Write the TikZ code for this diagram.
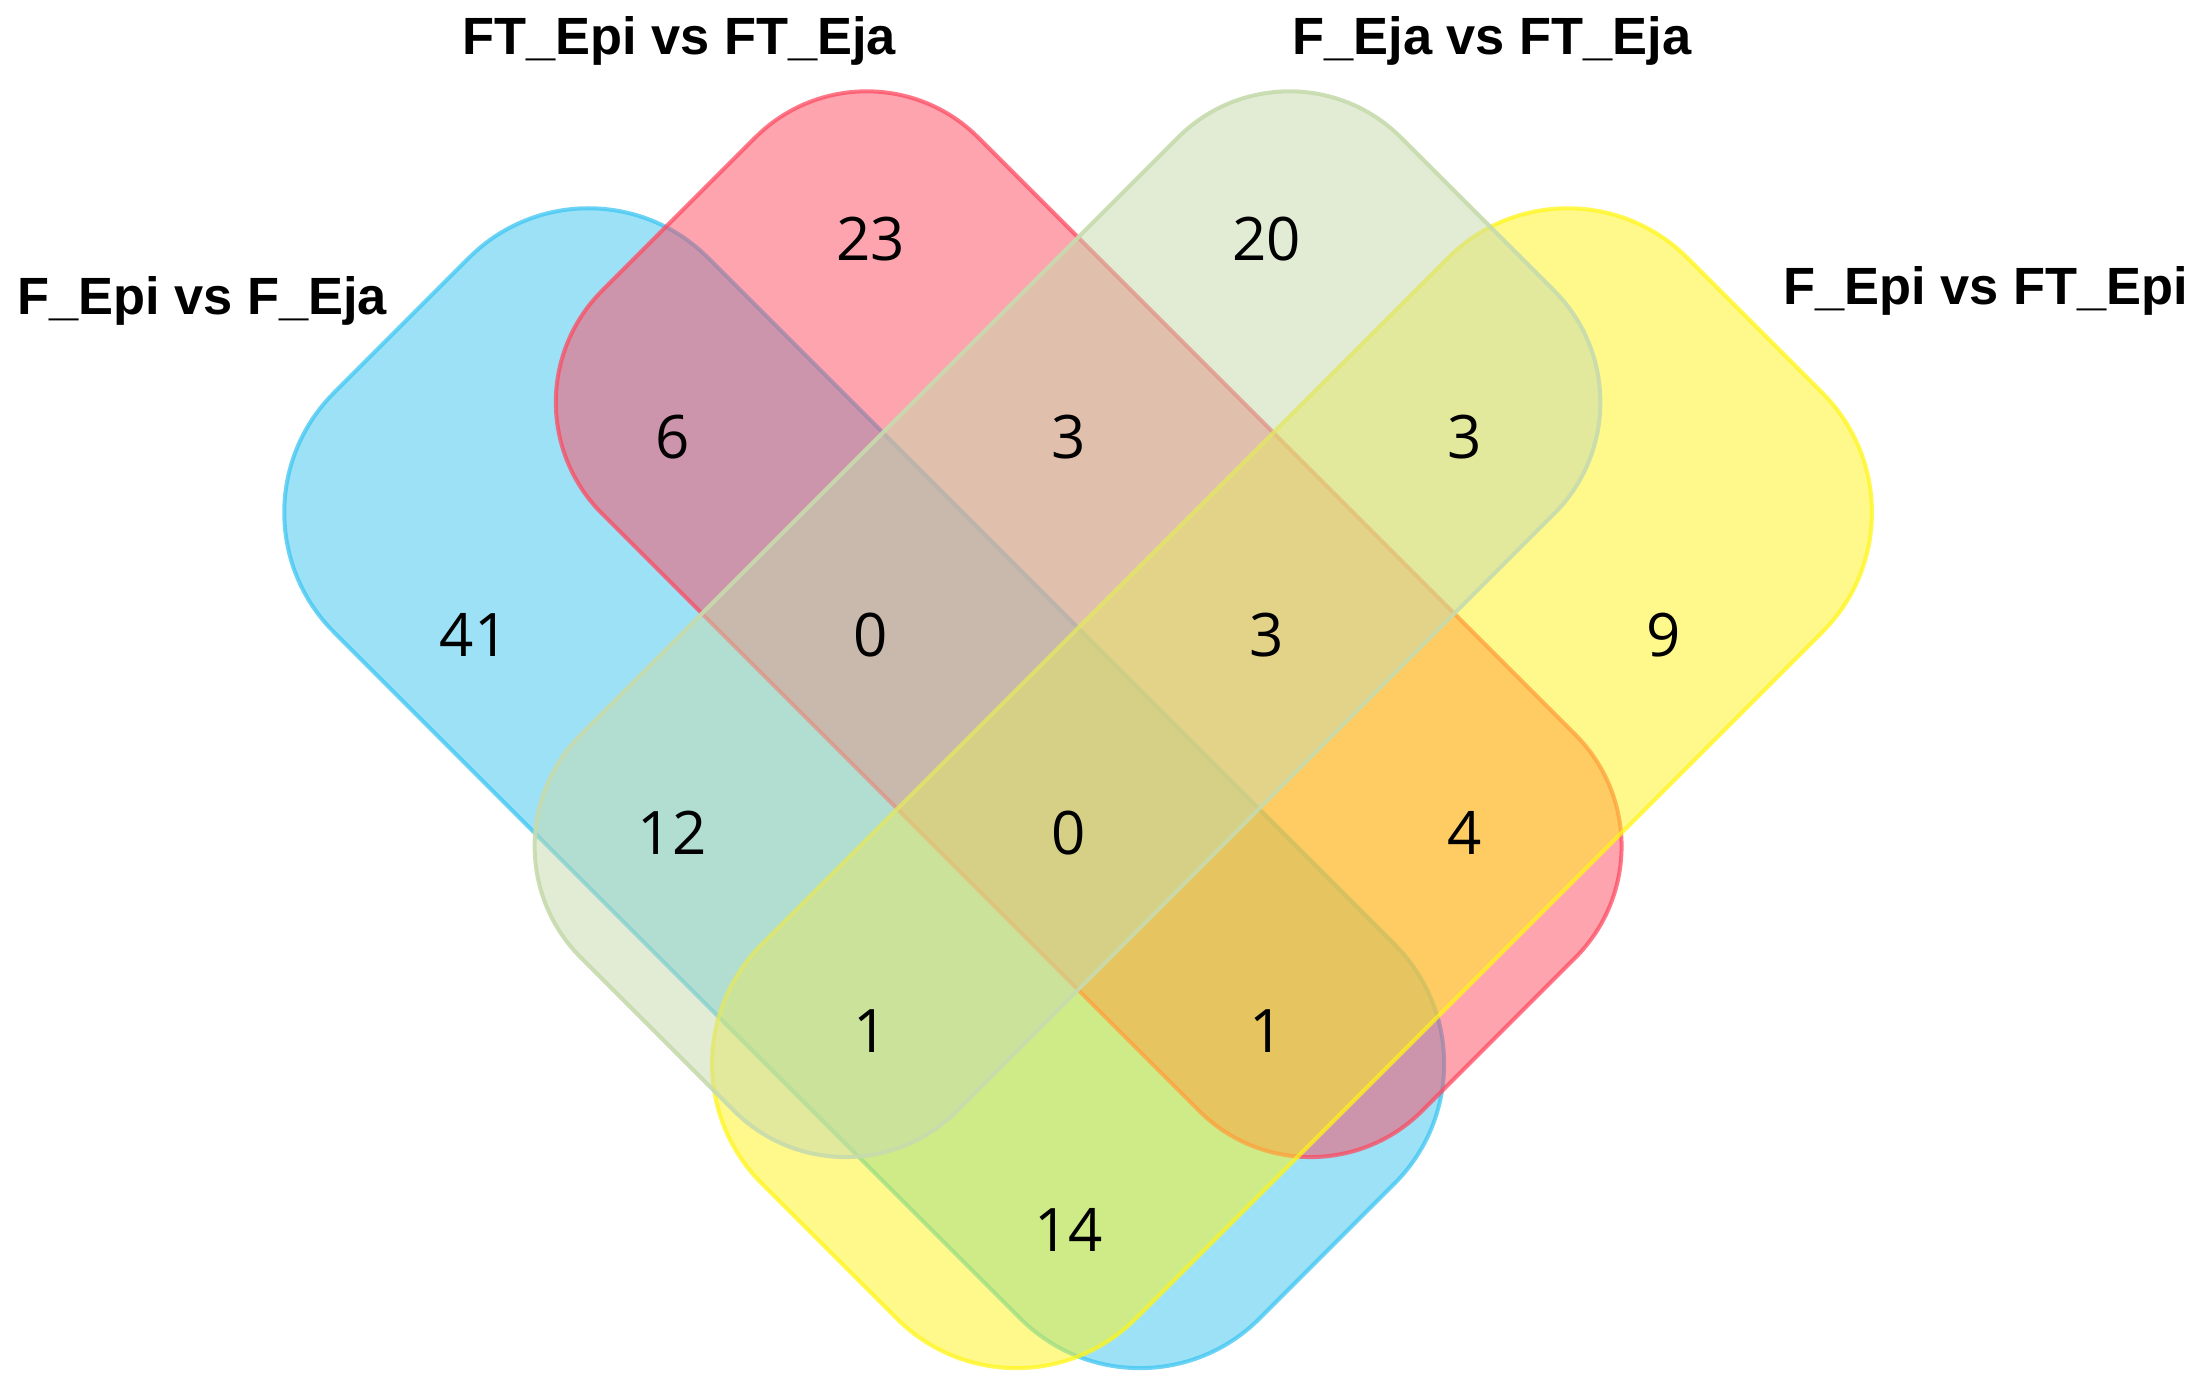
\documentclass[tikz,border=0pt]{standalone}
\usepackage{fontspec}
\setmainfont{Liberation Sans}
\newfontfamily\numfont{Open Sans}
\definecolor{blueF}{RGB}{61,197,241}
\definecolor{pinkF}{RGB}{253,75,97}
\definecolor{greenF}{RGB}{199,219,173}
\definecolor{yellowF}{RGB}{255,245,25}
\begin{document}
\begin{tikzpicture}[x=1pt,y=1pt,
  venn/.style={line width=4pt, fill opacity=0.5, draw opacity=0.75},
  cnt/.style={font=\numfont\fontsize{60}{72}\selectfont, inner sep=0pt, anchor=center},
  ttl/.style={font=\bfseries\fontsize{52.4}{63}\selectfont, inner sep=0pt, anchor=base}]
\useasboundingbox (0,0) rectangle (2207,1390);
\fill[white] (0,0) rectangle (2207,1390);
% sets
\draw[venn, draw=blueF, fill=blueF, shift={(864.2,601.8)}, rotate=-45, rounded corners=168.9pt]
  (-654.5,-264.6) rectangle (654.5,264.6);
\draw[venn, draw=pinkF, fill=pinkF, shift={(1088.7,765.8)}, rotate=-45, rounded corners=157.6pt]
  (-579.9,-266) rectangle (579.9,266);
\draw[venn, draw=yellowF, fill=yellowF, shift={(1292,601.8)}, rotate=45, rounded corners=168.9pt]
  (-654.5,-264.6) rectangle (654.5,264.6);
\draw[venn, draw=greenF, fill=greenF, draw opacity=0.9, shift={(1067.5,765.8)}, rotate=45, rounded corners=157.6pt]
  (-579.9,-266) rectangle (579.9,266);
% titles
\node[ttl] (t1) at (202,1075) {F\_Epi vs F\_Eja};
\node[ttl] (t2) at (679,1335) {FT\_Epi vs FT\_Eja};
\node[ttl] (t3) at (1492,1335) {F\_Eja vs FT\_Eja};
\node[ttl] (t4) at (1986,1085) {F\_Epi vs FT\_Epi};
% counts
\node[cnt] (n23) at (870.4,1151.4) {23};
\node[cnt] (n20) at (1266.8,1151.4) {20};
\node[cnt] (n6) at (672.2,953.2) {6};
\node[cnt] (n3a) at (1068.6,953.2) {3};
\node[cnt] (n3b) at (1465,953.2) {3};
\node[cnt] (n41) at (474,755) {41};
\node[cnt] (n0a) at (870.4,755) {0};
\node[cnt] (n3c) at (1266.8,755) {3};
\node[cnt] (n9) at (1663.2,755) {9};
\node[cnt] (n12) at (672.2,556.8) {12};
\node[cnt] (n0b) at (1068.6,556.8) {0};
\node[cnt] (n4) at (1465,556.8) {4};
\node[cnt] (n1a) at (870.4,358.6) {1};
\node[cnt] (n1b) at (1266.8,358.6) {1};
\node[cnt] (n14) at (1068.6,160.4) {14};
\end{tikzpicture}
\end{document}
